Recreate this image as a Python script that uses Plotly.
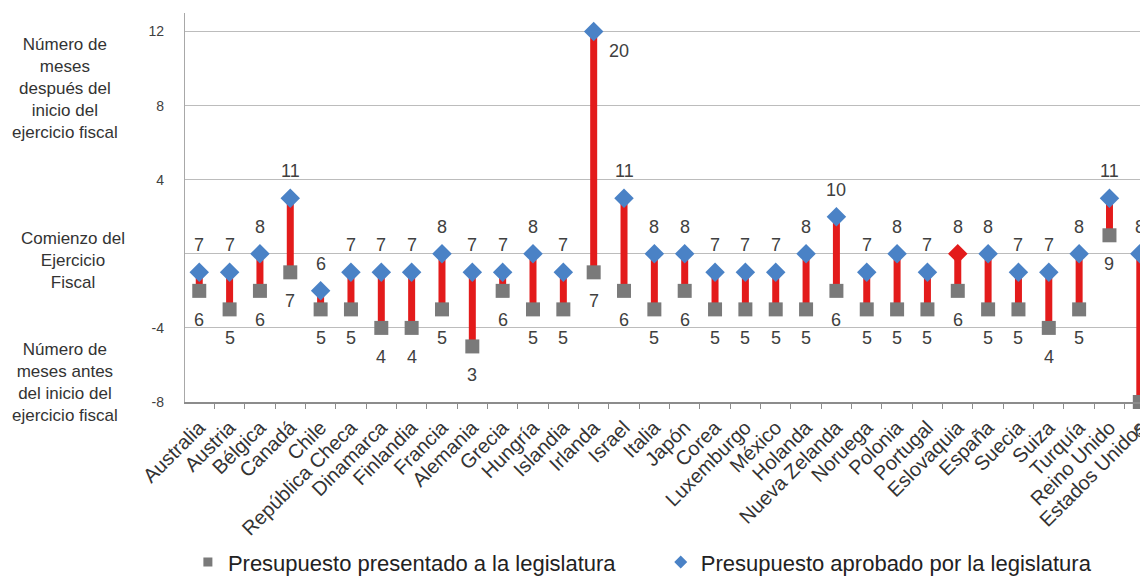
import plotly.graph_objects as go

# ---------------- data ----------------
countries = [
    "Australia", "Austria", "Bélgica", "Canadá", "Chile", "República Checa",
    "Dinamarca", "Finlandia", "Francia", "Alemania", "Grecia", "Hungría",
    "Islandia", "Irlanda", "Israel", "Italia", "Japón", "Corea", "Luxemburgo",
    "México", "Holanda", "Nueva Zelanda", "Noruega", "Polonia", "Portugal",
    "Eslovaquia", "España", "Suecia", "Suiza", "Turquía", "Reino Unido",
    "Estados Unidos",
]
# months (label values) at which the budget is approved / presented
approved_months = [7, 7, 8, 11, 6, 7, 7, 7, 8, 7, 7, 8, 7, 20, 11, 8, 8, 7, 7, 7,
                   8, 10, 7, 8, 7, 8, 8, 7, 7, 8, 11, 8]
presented_months = [6, 5, 6, 7, 5, 5, 4, 4, 5, 3, 6, 5, 5, 7, 6, 5, 6, 5, 5, 5,
                    5, 6, 5, 5, 5, 6, 5, 5, 4, 5, 9, 0]
fiscal_year_start = 8          # month that corresponds to 0 on the axis
highlight_country = "Eslovaquia"

y_tickvals = [-8, -4, 0, 4, 8, 12, 13]
y_ticktext = ["-8", "-4", "", "4", "8", "12", ""]

name_presented = "Presupuesto presentado a la legislatura"
name_approved = "Presupuesto aprobado por la legislatura"

# ---------------- derived ----------------
approved_y = [m - fiscal_year_start for m in approved_months]
presented_y = [m - fiscal_year_start for m in presented_months]

FONT = "Liberation Sans, Arial, sans-serif"
BLUE = "#4a82c6"
GREY = "#7a7a7a"
RED = "#e31b1b"
TXT = "#404040"

seg_x, seg_y = [], []
for c, a, p in zip(countries, approved_y, presented_y):
    seg_x += [c, c, None]
    seg_y += [p, a, None]

approved_colors = [RED if c == highlight_country else BLUE for c in countries]

fig = go.Figure()
fig.add_trace(go.Scatter(
    x=seg_x, y=seg_y, mode="lines",
    line=dict(color=RED, width=7), showlegend=False, hoverinfo="skip",
    cliponaxis=False,
))
fig.add_trace(go.Scatter(
    x=countries, y=presented_y, mode="markers", name=name_presented,
    marker=dict(symbol="square", size=14, color=GREY), showlegend=False,
    cliponaxis=False,
))
fig.add_trace(go.Scatter(
    x=countries, y=approved_y, mode="markers", name=name_approved,
    marker=dict(symbol="diamond", size=15, color=approved_colors), showlegend=False,
))
# legend entries
fig.add_trace(go.Scatter(
    x=[None], y=[None], mode="markers", name=name_presented,
    marker=dict(symbol="square", size=9, color=GREY), legend="legend",
))
fig.add_trace(go.Scatter(
    x=[None], y=[None], mode="markers", name=name_approved,
    marker=dict(symbol="diamond", size=10, color=BLUE), legend="legend2",
))

annotations = []
for c, a, p, am, pm in zip(countries, approved_y, presented_y,
                           approved_months, presented_months):
    if c == "Irlanda":
        ax_shift, ay_shift = 25, -19
    else:
        ax_shift, ay_shift = 0, 27
    annotations.append(dict(x=c, y=a, text=str(am), showarrow=False,
                            xshift=ax_shift, yshift=ay_shift,
                            font=dict(size=18, color=TXT, family=FONT)))
    annotations.append(dict(x=c, y=p, text=str(pm), showarrow=False,
                            yshift=-29,
                            font=dict(size=18, color=TXT, family=FONT)))

side_font = dict(size=17, color="#333333", family=FONT)
annotations += [
    dict(xref="paper", yref="y", x=-0.125, y=8.9, xanchor="center", yanchor="middle",
         text="Número de<br>meses<br>después del<br>inicio del<br>ejercicio fiscal",
         showarrow=False, font=side_font),
    dict(xref="paper", yref="y", x=-0.116, y=-0.35, xanchor="center", yanchor="middle",
         text="Comienzo del<br>Ejercicio<br>Fiscal", showarrow=False, font=side_font),
    dict(xref="paper", yref="y", x=-0.125, y=-6.95, xanchor="center", yanchor="middle",
         text="Número de<br>meses antes<br>del inicio del<br>ejercicio fiscal",
         showarrow=False, font=side_font),
]

# the page body adds an 8px margin, so the figure is 8px smaller than the window
fig.update_layout(
    width=1140, height=571, autosize=False,
    margin=dict(l=177, r=0, t=5, b=177, autoexpand=False),
    paper_bgcolor="white", plot_bgcolor="white",
    font=dict(family=FONT, color=TXT),
    annotations=annotations,
    legend=dict(orientation="h", x=0.003, y=-0.412, xanchor="left", yanchor="middle",
                font=dict(size=22, color="#222222", family=FONT),
                bgcolor="rgba(0,0,0,0)", itemwidth=30),
    legend2=dict(orientation="h", x=0.494, y=-0.412, xanchor="left", yanchor="middle",
                 font=dict(size=22, color="#222222", family=FONT),
                 bgcolor="rgba(0,0,0,0)", itemwidth=30),
    hovermode=False,
)
fig.update_xaxes(
    type="category", categoryorder="array", categoryarray=countries,
    range=[-0.47, 31.27], tickangle=-45, automargin=False,
    tickson="boundaries", ticks="outside", ticklen=5, tickcolor="#8c8c8c",
    ticklabelstandoff=4,
    showline=True, linecolor="#8c8c8c", linewidth=2, mirror=False,
    showgrid=False, tickfont=dict(size=20, color="#333333", family=FONT),
)
fig.update_yaxes(
    range=[-8, 13], tickvals=y_tickvals, ticktext=y_ticktext, automargin=False,
    showgrid=True, gridcolor="#bcbcbc", gridwidth=1.3, zeroline=False,
    showline=True, linecolor="#a8a8a8", linewidth=1.3, mirror=True,
    ticks="", ticklabelstandoff=17,
    tickfont=dict(size=14, color=TXT, family=FONT),
)

fig.write_html("out.html")
